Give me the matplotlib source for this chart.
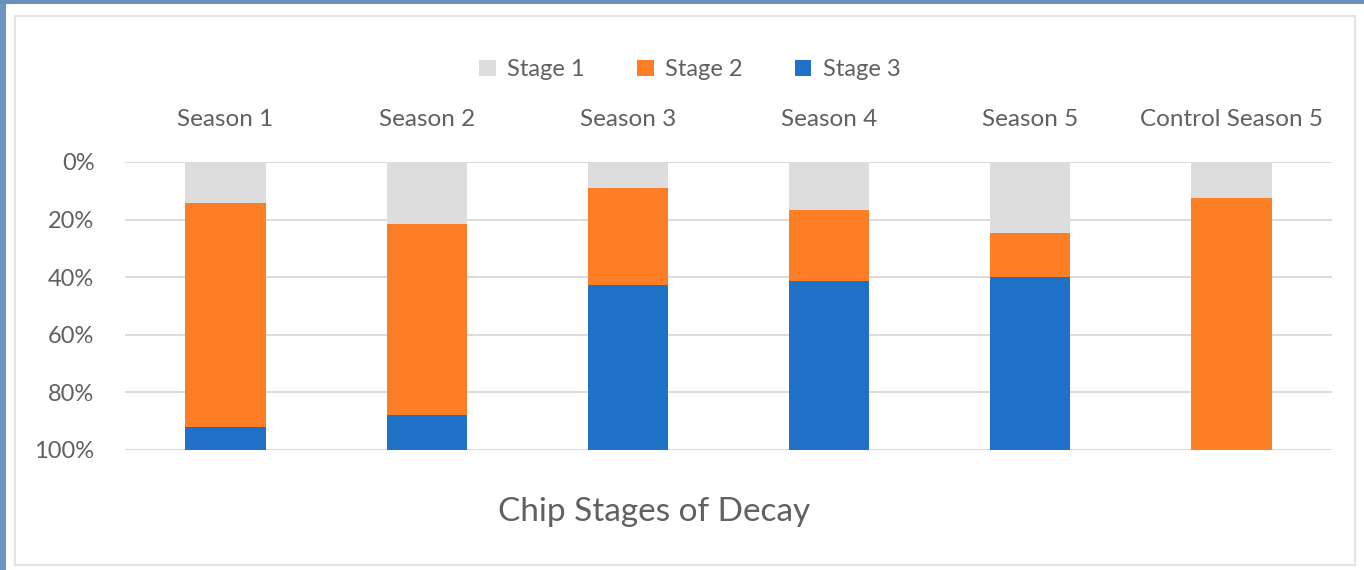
import matplotlib
matplotlib.use("Agg")
import matplotlib.pyplot as plt
from matplotlib.patches import Rectangle, Patch
import numpy as np

plt.rcParams['font.family'] = ['Lato', 'DejaVu Sans']

seasons = ["Season 1", "Season 2", "Season 3", "Season 4", "Season 5", "Control Season 5"]
stage1 = [14.4, 21.4, 9.2, 16.5, 24.6, 12.4]
stage2 = [77.5, 66.6, 33.6, 24.8, 15.5, 87.6]
stage3 = [8.1, 12.0, 57.2, 58.7, 59.9, 0.0]
stage_names = ["Stage 1", "Stage 2", "Stage 3"]
stage_colors = ["#DDDDDD", "#FD7E25", "#1F71C7"]

W, H = 1364, 570
fig = plt.figure(figsize=(W / 100, H / 100), dpi=100)
fig.patch.set_facecolor("white")

# blue slide frame on the left and top edges
fig.patches.append(Rectangle((0, 0), 6 / W, 1, transform=fig.transFigure,
                             facecolor="#6F93BF", edgecolor="none", zorder=0))
fig.patches.append(Rectangle((0, 1 - 4 / H), 1, 4 / H, transform=fig.transFigure,
                             facecolor="#6A8FBD", edgecolor="none", zorder=0))
# light chart border
fig.patches.append(Rectangle((15 / W, 1 - 565 / H), 1340 / W, 549 / H, transform=fig.transFigure,
                             facecolor="none", edgecolor="#E3E3E3", linewidth=1.5, zorder=1))

ax = fig.add_axes([125 / W, 1 - 450 / H, 1207 / W, 288 / H])
x = np.arange(len(seasons))
s1 = np.array(stage1)
s2 = np.array(stage2)
s3 = np.array(stage3)
bw = 0.4
ax.bar(x, s1, bw, color=stage_colors[0], zorder=3)
ax.bar(x, s2, bw, bottom=s1, color=stage_colors[1], zorder=3)
ax.bar(x, s3, bw, bottom=s1 + s2, color=stage_colors[2], zorder=3)

ax.set_xlim(-0.5, len(seasons) - 0.5)
ax.set_ylim(100, 0)
ax.set_yticks(range(0, 101, 20))
ax.set_yticklabels([f"{v}%" for v in range(0, 101, 20)])
ax.yaxis.grid(True, color="#D9D9D9", linewidth=1.3, zorder=0)
ax.set_axisbelow(True)
ax.xaxis.tick_top()
ax.set_xticks(x)
ax.set_xticklabels(seasons)
ax.tick_params(axis="x", length=0, pad=23, labelsize=17.5, labelcolor="#606060")
ax.tick_params(axis="y", length=0, pad=22, labelsize=17, labelcolor="#606060")
for sp in ax.spines.values():
    sp.set_visible(False)

handles = [Patch(facecolor=c, edgecolor="none") for c in stage_colors]
fig.legend(handles, stage_names, loc="center", bbox_to_anchor=(690 / W, 1 - 70 / H), ncol=3,
           frameon=False, fontsize=17, labelcolor="#606060", handlelength=0.7,
           handleheight=0.7, handletextpad=0.5, columnspacing=2.2)

fig.text(654 / W, 1 - 512 / H, "Chip Stages of Decay", ha="center", va="center",
         fontsize=24, color="#606060")

fig.savefig("out.png", dpi=100)
